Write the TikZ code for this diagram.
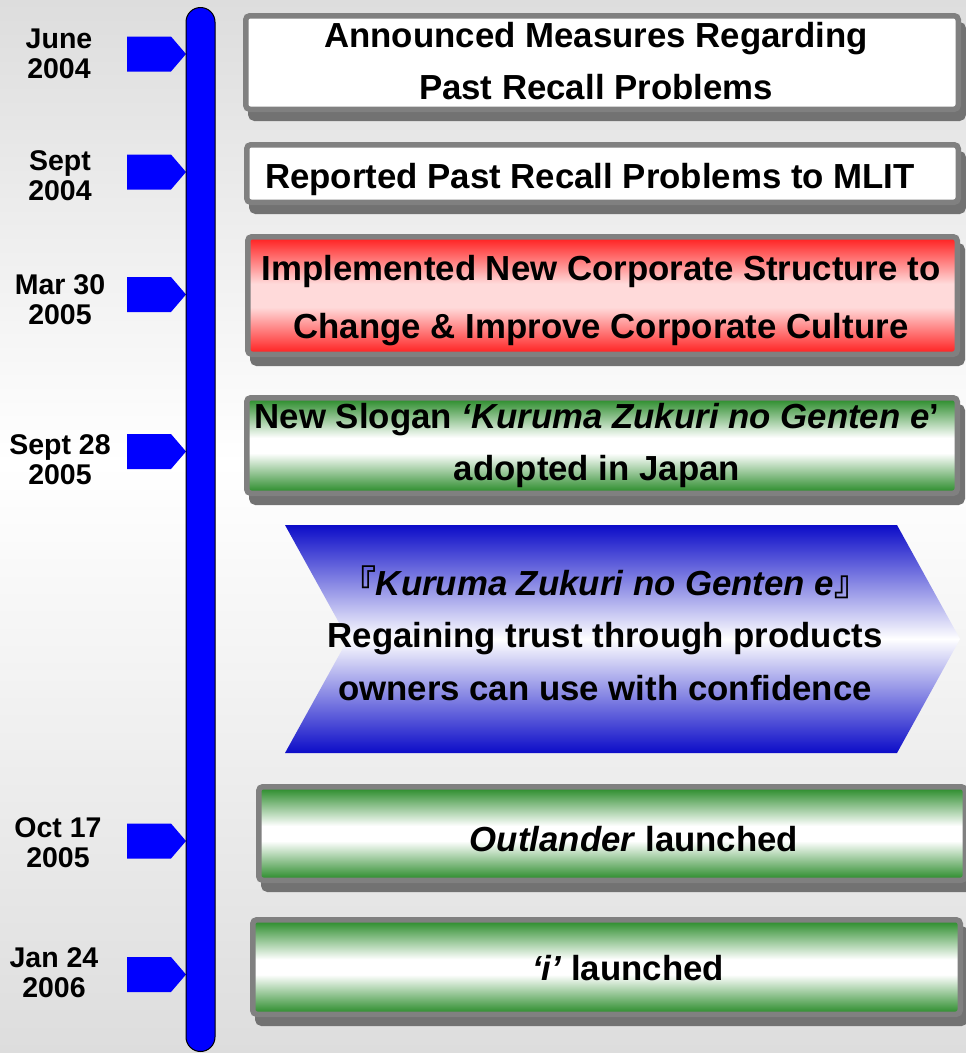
\documentclass[tikz,border=0pt]{standalone}
\usepackage{fontspec}
\setmainfont{Liberation Sans}
\newfontfamily\cjkfont{Noto Sans CJK JP}
\usetikzlibrary{calc}

\definecolor{bggray}{RGB}{221,221,221}
\definecolor{tlblue}{RGB}{0,0,255}
\definecolor{rimgray}{RGB}{128,128,128}
\definecolor{shadegray}{RGB}{114,114,114}
\definecolor{dgreen}{RGB}{36,136,36}
\definecolor{brred}{RGB}{255,28,28}
\definecolor{softpink}{RGB}{255,218,218}
\definecolor{chevblue}{RGB}{12,12,200}

% banded fills: dark edge, pale centre
\pgfdeclareverticalshading{greenband}{100bp}{color(0bp)=(dgreen); color(25bp)=(dgreen); color(46bp)=(white); color(54bp)=(white); color(75bp)=(dgreen); color(100bp)=(dgreen)}
\pgfdeclareverticalshading{redband}{100bp}{color(0bp)=(brred); color(25bp)=(brred); color(45bp)=(softpink); color(55bp)=(softpink); color(75bp)=(brred); color(100bp)=(brred)}
\pgfdeclareverticalshading{blueband}{100bp}{color(0bp)=(chevblue); color(25bp)=(chevblue); color(50bp)=(white); color(75bp)=(chevblue); color(100bp)=(chevblue)}
\pgfdeclareverticalshading{pageband}{100bp}{color(0bp)=(bggray); color(25bp)=(bggray); color(53bp)=(white); color(75bp)=(bggray); color(100bp)=(bggray)}

\tikzset{
  eventbox/.style={draw=rimgray, line width=5.5, rounded corners=4, inner sep=0,
    preaction={fill=shadegray, draw=shadegray, line width=5.5,
      transform canvas={shift={(5,9)}}}},
  boxtext/.style={font=\fontsize{34.8}{#1}\selectfont\bfseries, align=center,
    inner sep=0, anchor=base},
  boxtext/.default=52,
  datetext/.style={font=\fontsize{28.5}{30}\selectfont\bfseries, align=center,
    inner sep=0, anchor=base},
  marker/.style={fill=tlblue},
}

\begin{document}
\begin{tikzpicture}[x=1pt, y=-1pt]
  \useasboundingbox (0,0) rectangle (966,1053);
  % page background
  \shade[shading=pageband] (0,0) rectangle (966,1053);

  % date pointers
  \foreach \c in {54,172,294.5,451.5,841,974.5}
    \fill[marker] (127,\c-17.5) -- (171,\c-17.5) -- (186,\c)
      -- (171,\c+17.5) -- (127,\c+17.5) -- cycle;

  % time line
  \node[draw=black, fill=tlblue, line width=1, rounded corners=14.5,
    minimum width=29, minimum height=1044, inner sep=0] (bar) at (200.5,529.5) {};

  % dates (anchored at the baseline of the year line)
  \node[datetext] (d1) at (59,78) {June\\2004};
  \node[datetext] (d2) at (60,200) {Sept\\2004};
  \node[datetext] (d3) at (60,324) {Mar 30\\2005};
  \node[datetext] (d4) at (60,484) {Sept 28\\2005};
  \node[datetext] (d5) at (58,867) {Oct 17\\2005};
  \node[datetext] (d6) at (54,997) {Jan 24\\2006};

  % event boxes
  \node[eventbox, fill=white, minimum width=712.5, minimum height=93.5]
    (b1) at (602,62.5) {};
  \node[eventbox, fill=white, minimum width=711.5, minimum height=57.5]
    (b2) at (602.5,173.5) {};
  \node[eventbox, shading=redband, minimum width=709.5, minimum height=117.5]
    (b3) at (602.5,295.5) {};
  \node[eventbox, shading=greenband, minimum width=710.5, minimum height=95.5]
    (b4) at (602,445.5) {};
  \node[eventbox, shading=greenband, minimum width=706.5, minimum height=93.5]
    (b5) at (612,833.5) {};
  \node[eventbox, shading=greenband, minimum width=707.5, minimum height=94.5]
    (b6) at (606.5,967) {};

  % slogan chevron
  \shade[shading=blueband]
    (285,525) -- (897,525) -- (960,639) -- (897,753) -- (285,753)
    -- (348,639) -- cycle;

  % texts (anchored at the baseline of the last line)
  \node[boxtext] (t1) at (596,99) {Announced Measures Regarding\\Past Recall Problems};
  \node[boxtext] (t2) at (590,188) {Reported Past Recall Problems to MLIT};
  \node[boxtext=58] (t3) at (601,338) {Implemented New Corporate Structure to\\Change \& Improve Corporate Culture};
  \node[boxtext] (t4) at (597,480) {New Slogan \textit{‘Kuruma Zukuri no Genten e}’\\adopted in Japan};
  \node[boxtext=52.5] (t5) at (605,700) {{\cjkfont 『}\textit{Kuruma Zukuri no Genten e}{\cjkfont 』}\\Regaining trust through products\\owners can use with confidence};
  \node[boxtext] (t6) at (634,851) {\textit{Outlander} launched};
  \node[boxtext] (t7) at (628,980) {\textit{‘i’} launched};
\end{tikzpicture}
\end{document}
